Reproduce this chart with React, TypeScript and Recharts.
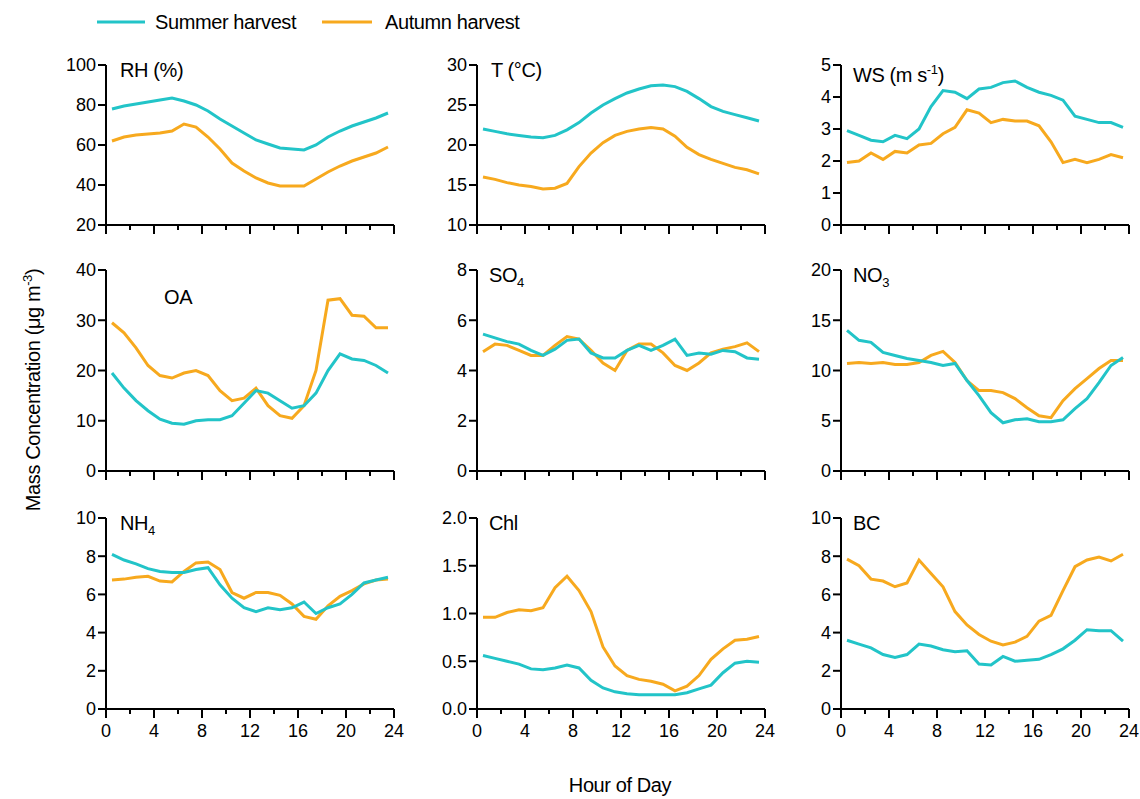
import { LineChart, Line, XAxis, YAxis } from 'recharts';

const HOURS = [0.5, 1.5, 2.5, 3.5, 4.5, 5.5, 6.5, 7.5, 8.5, 9.5, 10.5, 11.5, 12.5, 13.5, 14.5, 15.5, 16.5, 17.5, 18.5, 19.5, 20.5, 21.5, 22.5, 23.5];
const X_TICKS = [0, 2, 4, 6, 8, 10, 12, 14, 16, 18, 20, 22, 24];

const RH_SUMMER = [78, 79.5, 80.5, 81.5, 82.5, 83.5, 82, 80, 77, 73, 69.5, 66, 62.5, 60.5, 58.5, 58, 57.5, 60, 64, 67, 69.5, 71.5, 73.5, 76];
const RH_AUTUMN = [62, 64, 65, 65.5, 66, 67, 70.5, 69, 64, 58, 51, 47, 43.5, 41, 39.5, 39.5, 39.5, 43, 46.5, 49.5, 52, 54, 56, 59];
const T_SUMMER = [22, 21.7, 21.4, 21.2, 21, 20.9, 21.2, 21.9, 22.8, 24, 25, 25.8, 26.5, 27, 27.4, 27.5, 27.3, 26.7, 25.8, 24.8, 24.2, 23.8, 23.4, 23];
const T_AUTUMN = [16, 15.7, 15.3, 15, 14.8, 14.5, 14.6, 15.2, 17.3, 19, 20.3, 21.2, 21.7, 22, 22.2, 22, 21.1, 19.7, 18.8, 18.2, 17.7, 17.2, 16.9, 16.4];
const WS_SUMMER = [2.95, 2.8, 2.65, 2.6, 2.8, 2.7, 3.0, 3.7, 4.2, 4.15, 3.95, 4.25, 4.3, 4.45, 4.5, 4.3, 4.15, 4.05, 3.9, 3.4, 3.3, 3.2, 3.2, 3.05];
const WS_AUTUMN = [1.95, 2.0, 2.25, 2.05, 2.3, 2.25, 2.5, 2.55, 2.85, 3.05, 3.6, 3.5, 3.2, 3.3, 3.25, 3.25, 3.1, 2.6, 1.95, 2.05, 1.95, 2.05, 2.2, 2.1];
const OA_SUMMER = [19.5, 16.5, 14, 12, 10.3, 9.5, 9.3, 10, 10.2, 10.2, 11, 13.5, 16, 15.5, 14, 12.5, 13, 15.5, 20, 23.3, 22.3, 22, 21, 19.5];
const OA_AUTUMN = [29.5, 27.5, 24.5, 21, 19, 18.5, 19.5, 20, 19, 16, 14, 14.5, 16.5, 13, 11, 10.5, 13, 20, 34, 34.3, 31, 30.8, 28.5, 28.5];
const SO4_SUMMER = [5.45, 5.3, 5.15, 5.05, 4.8, 4.6, 4.85, 5.2, 5.25, 4.7, 4.5, 4.5, 4.8, 5.0, 4.8, 5.0, 5.25, 4.6, 4.7, 4.65, 4.8, 4.75, 4.5, 4.45];
const SO4_AUTUMN = [4.75, 5.05, 5.0, 4.8, 4.6, 4.6, 5.0, 5.35, 5.25, 4.8, 4.3, 4.0, 4.8, 5.05, 5.05, 4.7, 4.2, 4.0, 4.3, 4.7, 4.85, 4.95, 5.1, 4.75];
const NO3_SUMMER = [14, 13, 12.8, 11.8, 11.5, 11.2, 11, 10.8, 10.5, 10.7, 9, 7.5, 5.8, 4.8, 5.1, 5.2, 4.9, 4.9, 5.1, 6.2, 7.2, 8.8, 10.5, 11.3];
const NO3_AUTUMN = [10.7, 10.8, 10.7, 10.8, 10.6, 10.6, 10.8, 11.5, 11.9, 10.8, 9, 8, 8, 7.8, 7.2, 6.3, 5.5, 5.3, 7, 8.2, 9.2, 10.2, 11, 11];
const NH4_SUMMER = [8.1, 7.8, 7.6, 7.35, 7.2, 7.15, 7.15, 7.3, 7.4, 6.5, 5.8, 5.3, 5.1, 5.3, 5.2, 5.3, 5.6, 5.0, 5.3, 5.5, 6.0, 6.6, 6.75, 6.9];
const NH4_AUTUMN = [6.75, 6.8, 6.9, 6.95, 6.7, 6.65, 7.2, 7.65, 7.7, 7.3, 6.1, 5.8, 6.1, 6.1, 5.95, 5.5, 4.85, 4.7, 5.4, 5.9, 6.2, 6.55, 6.75, 6.8];
const CHL_SUMMER = [0.56, 0.53, 0.5, 0.47, 0.42, 0.41, 0.43, 0.46, 0.43, 0.3, 0.22, 0.18, 0.16, 0.15, 0.15, 0.15, 0.15, 0.17, 0.21, 0.25, 0.38, 0.48, 0.5, 0.49];
const CHL_AUTUMN = [0.96, 0.96, 1.01, 1.04, 1.03, 1.06, 1.27, 1.39, 1.24, 1.02, 0.65, 0.45, 0.35, 0.31, 0.29, 0.26, 0.19, 0.24, 0.35, 0.52, 0.63, 0.72, 0.73, 0.76];
const BC_SUMMER = [3.6, 3.4, 3.2, 2.85, 2.7, 2.85, 3.4, 3.3, 3.1, 3.0, 3.05, 2.35, 2.3, 2.75, 2.5, 2.55, 2.6, 2.85, 3.15, 3.6, 4.15, 4.1, 4.1, 3.55];
const BC_AUTUMN = [7.85, 7.5, 6.8, 6.7, 6.4, 6.6, 7.8, 7.1, 6.4, 5.1, 4.4, 3.9, 3.55, 3.35, 3.5, 3.8, 4.6, 4.9, 6.2, 7.45, 7.8, 7.95, 7.75, 8.1];

const SUMMER = '#22c4c8';
const AUTUMN = '#f7a91e';
const FONT = '"Liberation Sans", Arial, sans-serif';
const LS = -0.4;

const COL_X = [106, 477, 841];
const ROWS = [
  { top: 65, h: 160 },
  { top: 270, h: 201 },
  { top: 518, h: 191 },
];
const PLOT_W = 288;

type PanelDef = {
  label: React.ReactNode;
  labelDx: number;
  summer: number[];
  autumn: number[];
  domain: [number, number];
  ticks: number[];
  decimals?: number;
};

const PANELS: PanelDef[] = [
  { label: 'RH (%)', labelDx: 14, summer: RH_SUMMER, autumn: RH_AUTUMN, domain: [20, 100], ticks: [20, 40, 60, 80, 100] },
  { label: 'T (°C)', labelDx: 14, summer: T_SUMMER, autumn: T_AUTUMN, domain: [10, 30], ticks: [10, 15, 20, 25, 30] },
  { label: <>WS (m s<sup style={{ fontSize: 13 }}>-1</sup>)</>, labelDx: 12, summer: WS_SUMMER, autumn: WS_AUTUMN, domain: [0, 5], ticks: [0, 1, 2, 3, 4, 5] },
  { label: 'OA', labelDx: 58, summer: OA_SUMMER, autumn: OA_AUTUMN, domain: [0, 40], ticks: [0, 10, 20, 30, 40] },
  { label: <>SO<sub style={{ fontSize: 13 }}>4</sub></>, labelDx: 12, summer: SO4_SUMMER, autumn: SO4_AUTUMN, domain: [0, 8], ticks: [0, 2, 4, 6, 8] },
  { label: <>NO<sub style={{ fontSize: 13 }}>3</sub></>, labelDx: 12, summer: NO3_SUMMER, autumn: NO3_AUTUMN, domain: [0, 20], ticks: [0, 5, 10, 15, 20] },
  { label: <>NH<sub style={{ fontSize: 13 }}>4</sub></>, labelDx: 14, summer: NH4_SUMMER, autumn: NH4_AUTUMN, domain: [0, 10], ticks: [0, 2, 4, 6, 8, 10] },
  { label: 'Chl', labelDx: 12, summer: CHL_SUMMER, autumn: CHL_AUTUMN, domain: [0, 2], ticks: [0, 0.5, 1, 1.5, 2], decimals: 1 },
  { label: 'BC', labelDx: 12, summer: BC_SUMMER, autumn: BC_AUTUMN, domain: [0, 10], ticks: [0, 2, 4, 6, 8, 10] },
];

const XTick = ({ x, y, payload, showLabel }: any) => {
  const major = payload.value % 4 === 0;
  return (
    <g>
      <line x1={x} x2={x} y1={y} y2={y + (major ? 9 : 5)} stroke="#000" strokeWidth={2} />
      {showLabel && major && (
        <text x={x} y={y + 28} textAnchor="middle" fontSize={18} fontFamily={FONT} fill="#000">
          {payload.value}
        </text>
      )}
    </g>
  );
};

function Panel({ def, col, row }: { def: PanelDef; col: number; row: number }) {
  const { top, h } = ROWS[row];
  const data = HOURS.map((hr, i) => ({ hr, s: def.summer[i], a: def.autumn[i] }));
  const mTop = 10;
  return (
    <div style={{ position: 'absolute', left: COL_X[col] - 60, top: top - mTop }}>
      <LineChart width={60 + PLOT_W + 15} height={mTop + h + 32} data={data} margin={{ top: mTop, right: 15, left: 0, bottom: 0 }}>
        <XAxis
          dataKey="hr"
          type="number"
          domain={[0, 24]}
          ticks={X_TICKS}
          interval={0}
          height={32}
          tickSize={0}
          tickMargin={0}
          tickLine={false}
          axisLine={{ stroke: '#000', strokeWidth: 2 }}
          tick={<XTick showLabel={row === 2} />}
        />
        <YAxis
          type="number"
          domain={def.domain}
          ticks={def.ticks}
          interval={0}
          width={60}
          tickSize={8}
          axisLine={{ stroke: '#000', strokeWidth: 2 }}
          tickLine={{ stroke: '#000', strokeWidth: 2 }}
          tick={{ fill: '#000', fontSize: 18, fontFamily: FONT }}
          tickFormatter={(v: number) => (def.decimals ? v.toFixed(def.decimals) : String(v))}
        />
        <Line dataKey="a" stroke={AUTUMN} strokeWidth={3} dot={false} isAnimationActive={false} />
        <Line dataKey="s" stroke={SUMMER} strokeWidth={3} dot={false} isAnimationActive={false} />
      </LineChart>
      <div style={{ position: 'absolute', left: 60 + def.labelDx, top: mTop - 7 + (row === 1 && col === 0 ? 22 : 0), fontSize: 20, letterSpacing: LS, fontFamily: FONT, lineHeight: '24px' }}>
        {def.label}
      </div>
    </div>
  );
}

export default function App() {
  return (
    <div style={{ position: 'absolute', left: 0, top: 0, width: 1140, height: 799, background: '#fff', fontFamily: FONT }}>
      {PANELS.map((p, i) => (
        <Panel key={i} def={p} col={i % 3} row={Math.floor(i / 3)} />
      ))}
      <svg style={{ position: 'absolute', left: 0, top: 0 }} width={1140} height={799}>
        <line x1={97} x2={145} y1={22} y2={22} stroke={SUMMER} strokeWidth={3} />
        <text x={155} y={29} fontSize={20} letterSpacing={LS} fontFamily={FONT}>Summer harvest</text>
        <line x1={322} x2={372} y1={22} y2={22} stroke={AUTUMN} strokeWidth={3} />
        <text x={385} y={29} fontSize={20} letterSpacing={LS} fontFamily={FONT}>Autumn harvest</text>
        <text x={620} y={792} fontSize={20} letterSpacing={LS} fontFamily={FONT} textAnchor="middle">Hour of Day</text>
        <text transform="translate(40,390) rotate(-90)" fontSize={20} letterSpacing={LS} fontFamily={FONT} textAnchor="middle">
          Mass Concentration (μg m<tspan dy={-8} fontSize={13}>-3</tspan><tspan dy={8}>)</tspan>
        </text>
      </svg>
    </div>
  );
}
